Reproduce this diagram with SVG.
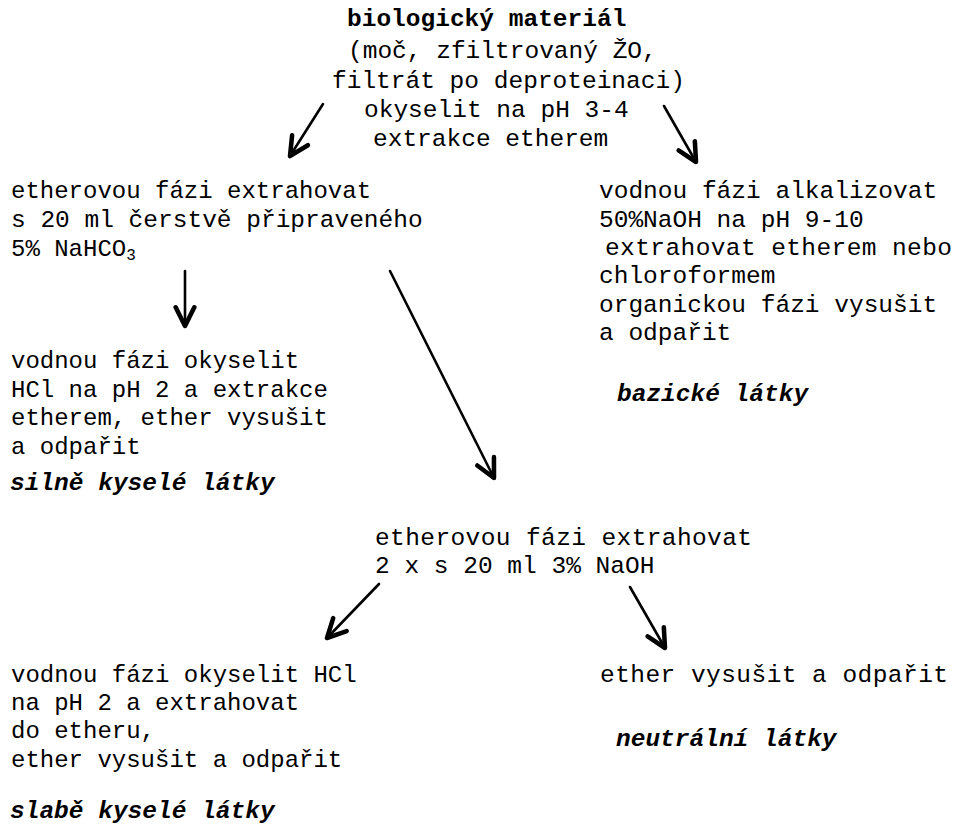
<svg xmlns="http://www.w3.org/2000/svg" width="956" height="832" viewBox="0 0 956 832">
<style>
text{font-family:"Liberation Mono","Courier New",monospace;font-size:24.5px;fill:#000}
.s{font-size:24px}
.b{font-weight:bold}
.bi{font-weight:bold;font-style:italic}
.c line{stroke:#000;stroke-width:2.6;stroke-linecap:round;marker-end:url(#ah)}
</style>
<defs>
<marker id="ah" markerUnits="userSpaceOnUse" markerWidth="24" markerHeight="24" refX="16" refY="8" orient="auto" viewBox="0 0 18 16">
<path d="M2,1 L16,8 L2,15" fill="none" stroke="#000" stroke-width="3.4" stroke-linecap="round" stroke-linejoin="round"/>
</marker>
</defs>
<rect width="956" height="832" fill="#fff"/>
<g id="start">
<text class="b" x="347" y="26">biologický materiál</text>
<text x="348" y="58">(moč, zfiltrovaný ŽO,</text>
<text x="332" y="88">filtrát po deproteinaci)</text>
<text x="364" y="117">okyselit na pH 3-4</text>
<text x="373" y="146">extrakce etherem</text>
</g>
<g id="ether1">
<text class="s" x="11" y="198">etherovou fázi extrahovat</text>
<text x="11" y="227">s 20 ml čerstvě připraveného</text>
<text class="s" x="11" y="256">5% NaHCO<tspan font-size="16" dy="4">3</tspan></text>
</g>
<g id="baze">
<text x="599" y="198">vodnou fázi alkalizovat</text>
<text x="599" y="227">50%NaOH na pH 9-10</text>
<text x="605" y="255" textLength="347">extrahovat etherem nebo</text>
<text x="599" y="283">chloroformem</text>
<text x="599" y="312">organickou fázi vysušit</text>
<text x="599" y="340">a odpařit</text>
<text class="bi" x="617" y="401">bazické látky</text>
</g>
<g id="silne">
<text class="s" x="11" y="368">vodnou fázi okyselit</text>
<text class="s" x="11" y="397">HCl na pH 2 a extrakce</text>
<text class="s" x="11" y="425">etherem, ether vysušit</text>
<text class="s" x="11" y="454">a odpařit</text>
<text class="bi" x="10" y="490">silně kyselé látky</text>
</g>
<g id="ether2">
<text x="375" y="545" textLength="377">etherovou fázi extrahovat</text>
<text x="375" y="573">2 x s 20 ml 3% NaOH</text>
</g>
<g id="slabe">
<text class="s" x="11" y="682">vodnou fázi okyselit HCl</text>
<text class="s" x="11" y="710">na pH 2 a extrahovat</text>
<text class="s" x="11" y="738">do etheru,</text>
<text class="s" x="11" y="767">ether vysušit a odpařit</text>
<text class="bi" x="10" y="818">slabě kyselé látky</text>
</g>
<g id="neutral">
<text x="600" y="682" textLength="348">ether vysušit a odpařit</text>
<text class="bi" x="616" y="746">neutrální látky</text>
</g>
<g id="connectors" class="c">
<line x1="323" y1="104" x2="290" y2="156"/>
<line x1="664" y1="106" x2="696" y2="162"/>
<line x1="185" y1="271" x2="185" y2="326"/>
<line x1="390" y1="271" x2="494" y2="478"/>
<line x1="379" y1="584" x2="327" y2="638"/>
<line x1="630" y1="587" x2="665" y2="648"/>
</g>
</svg>
